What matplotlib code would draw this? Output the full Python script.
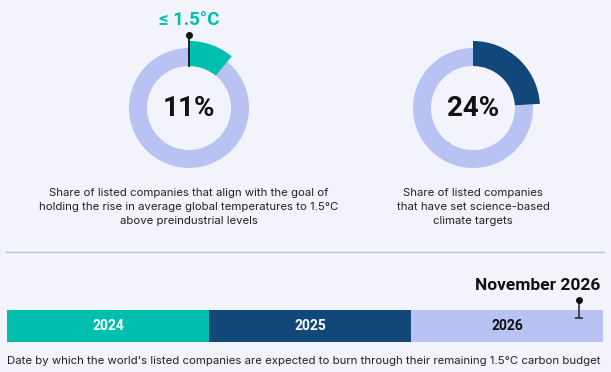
import matplotlib
matplotlib.use("Agg")
import matplotlib.pyplot as plt

# values
donut_shares = [11, 24]
donut_labels = ["11%", "24%"]
donut_captions = [
    "Share of listed companies that align with the goal of\n"
    "holding the rise in average global temperatures to 1.5°C\n"
    "above preindustrial levels",
    "Share of listed companies\nthat have set science-based\nclimate targets",
]
threshold_label = "≤ 1.5°C"

bar_years = [2024, 2025, 2026]
bar_labels = ["2024", "2025", "2026"]
budget_date = 2026 + 10 / 12
budget_label = "November 2026"
bar_caption = ("Date by which the world's listed companies are expected to burn "
               "through their remaining 1.5°C carbon budget")

BG = "#F3F4FB"
TEAL = "#00BFAE"
NAVY = "#12477A"
LIGHT = "#B8C3F3"
DONUT_COLORS = [TEAL, NAVY]
BAR_COLORS = [TEAL, NAVY, LIGHT]
BAR_TEXT = ["white", "white", "#111111"]

W, H = 611, 372
BOLD = ["Roboto", "DejaVu Sans"]
BODY = ["Inter", "DejaVu Sans"]


def fx(px):
    return px / W


def fy(py):
    # pixel measured from top
    return 1 - py / H


fig = plt.figure(figsize=(W / 100, H / 100), dpi=100, facecolor=BG)

# donuts
centers = [(189, 108), (473, 108)]
half = 75
for i, (cx, cy) in enumerate(centers):
    ax = fig.add_axes([fx(cx - half), fy(cy + half), fx(2 * half), 2 * half / H])
    share = donut_shares[i]
    ax.pie([share, 100 - share], radius=60, startangle=90, counterclock=False,
           colors=[LIGHT, LIGHT], wedgeprops=dict(width=18, linewidth=0))
    ax.pie([share, 100 - share], radius=67, startangle=90, counterclock=False,
           colors=[DONUT_COLORS[i], "none"], wedgeprops=dict(width=25, linewidth=0))
    ax.set_xlim(-half, half)
    ax.set_ylim(-half, half)
    ax.set_aspect("equal")
    ax.axis("off")
    ax.text(0, 0, donut_labels[i], ha="center", va="center", fontsize=20,
            fontweight="bold", family=BOLD, color="#111111")
    if i == 0:
        ax.plot([0, 0], [42, 73], color="#111111", lw=1.3, clip_on=False)
        ax.plot([0], [73], "o", color="#111111", ms=4, clip_on=False)
    fig.text(fx(cx), fy(207), donut_captions[i], ha="center", va="center",
             fontsize=8.2, family=BODY, color="#222222", linespacing=1.45)

fig.text(fx(189), fy(20), threshold_label, ha="center", va="center", fontsize=13.5,
         fontweight="bold", family=BOLD, color=TEAL)

# separator
fig.add_artist(plt.Line2D([fx(6), fx(604)], [fy(252), fy(252)], color="#B9C0EC", lw=1))

# timeline bar
bx = fig.add_axes([fx(7), fy(342), fx(596), 32 / H])
bx.barh(0.5, [1] * len(bar_years), left=bar_years, height=1, color=BAR_COLORS, linewidth=0)
bx.set_xlim(bar_years[0], 2026.95)
bx.set_ylim(0, 1)
bx.axis("off")
for i, yr in enumerate(bar_years):
    mid = (yr + min(yr + 1, 2026.95)) / 2
    bx.text(mid, 0.5, bar_labels[i], ha="center", va="center", fontsize=10,
            fontweight="bold", family=BOLD, color=BAR_TEXT[i])
bx.plot([budget_date, budget_date], [0.75, 1.31], color="#333333", lw=1.2, clip_on=False)
bx.plot([budget_date], [1.31], "o", color="#111111", ms=4, clip_on=False)
bx.plot([budget_date], [0.75], "_", color="#333333", ms=6, mew=1.2, clip_on=False)

fig.text(fx(600), fy(285), budget_label, ha="right", va="center", fontsize=12.5,
         fontweight="bold", family=BOLD, color="#111111")
fig.text(fx(7), fy(361), bar_caption, ha="left", va="center", fontsize=8.2,
         family=BODY, color="#222222")

fig.savefig("out.png", dpi=100, facecolor=BG)
